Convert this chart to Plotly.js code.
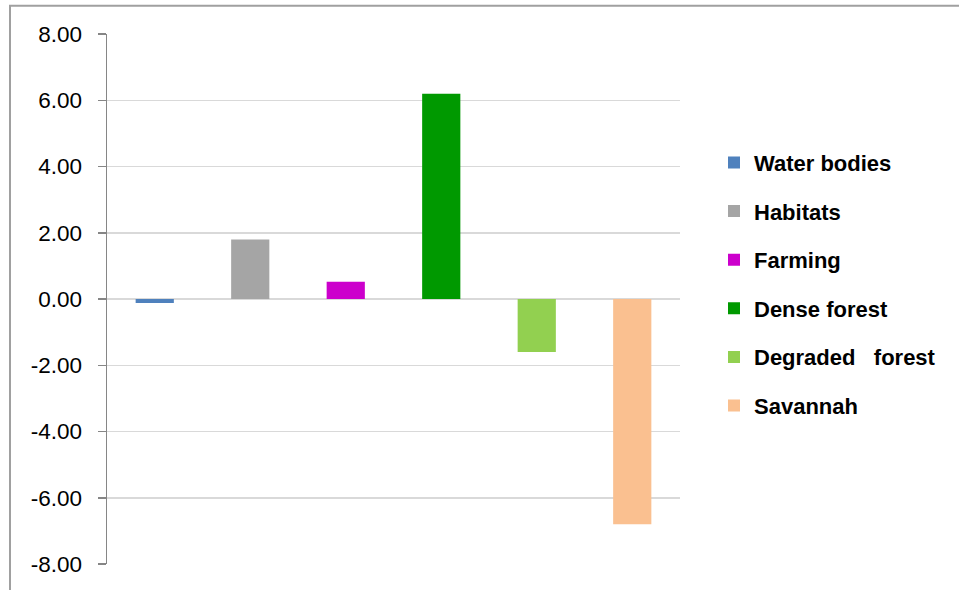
<!DOCTYPE html>
<html>
<head>
<meta charset="utf-8">
<script src="https://cdn.plot.ly/plotly-3.0.1.min.js"></script>
<style>
  html, body { margin: 0; padding: 0; background: #fff; }
  #chart { width: 959px; height: 590px; }
</style>
</head>
<body>
<div id="chart"></div>
<script>
const categories = ["Water bodies", "Habitats", "Farming", "Dense forest", "Degraded   forest", "Savannah"];
const values = [-0.12, 1.8, 0.52, 6.2, -1.6, -6.8];
const colors = ["#4F81BD", "#A5A5A5", "#CC00CC", "#009900", "#92D050", "#FAC090"];
const yTicks = [-8, -6, -4, -2, 0, 2, 4, 6, 8];
const yTickText = ["-8.00", "-6.00", "-4.00", "-2.00", "0.00", "2.00", "4.00", "6.00", "8.00"];

const traces = categories.map((name, i) => ({
  type: "bar",
  name: name,
  legendgroup: "g" + i,
  x: [name],
  y: [values[i]],
  marker: { color: colors[i], line: { width: 0 } },
  hoverinfo: "name+y"
}));

const L = 107, R = 680, T = 34.3, B = 564.3;
const W = 959, H = 590;
const pw = R - L, ph = B - T;
const px = p => (p - L) / pw;
const py = p => (B - p) / ph;

const layout = {
  width: W,
  height: H,
  margin: { l: L, r: W - R, t: T, b: H - B, pad: 0 },
  paper_bgcolor: "#ffffff",
  plot_bgcolor: "#ffffff",
  barmode: "overlay",
  bargap: 0.6,
  font: { family: "Liberation Sans, Arial, sans-serif", color: "#000000" },
  xaxis: {
    type: "category",
    categoryorder: "array",
    categoryarray: categories,
    showticklabels: false,
    showgrid: false,
    zeroline: false,
    showline: false,
    ticks: "",
    fixedrange: true
  },
  yaxis: {
    range: [-8, 8],
    tickmode: "array",
    tickvals: yTicks,
    ticktext: yTickText,
    showgrid: true,
    gridcolor: "#D9D9D9",
    gridwidth: 1.5,
    zeroline: false,
    showline: true,
    linecolor: "#868686",
    linewidth: 1.5,
    ticks: "outside",
    ticklen: 8,
    tickwidth: 1.5,
    tickcolor: "#868686",
    ticklabelstandoff: 11,
    tickfont: { size: 22.5, color: "#000000", family: "Liberation Sans, Arial, sans-serif" },
    fixedrange: true
  },
  showlegend: true,
  legend: {
    x: px(714),
    xanchor: "left",
    y: py(142),
    yanchor: "top",
    traceorder: "grouped",
    tracegroupgap: 17,
    font: { size: 22, family: "Liberation Sans, Arial, sans-serif", color: "#000000", weight: "bold" },
    bgcolor: "rgba(0,0,0,0)"
  },
  shapes: [
    {
      type: "rect", xref: "paper", yref: "paper",
      x0: px(10), x1: px(975), y0: py(605), y1: py(6),
      line: { color: "#A0A0A0", width: 2 },
      fillcolor: "rgba(0,0,0,0)",
      layer: "below"
    }
  ]
};

Plotly.newPlot("chart", traces, layout, { displayModeBar: false, staticPlot: true });
</script>
</body>
</html>
